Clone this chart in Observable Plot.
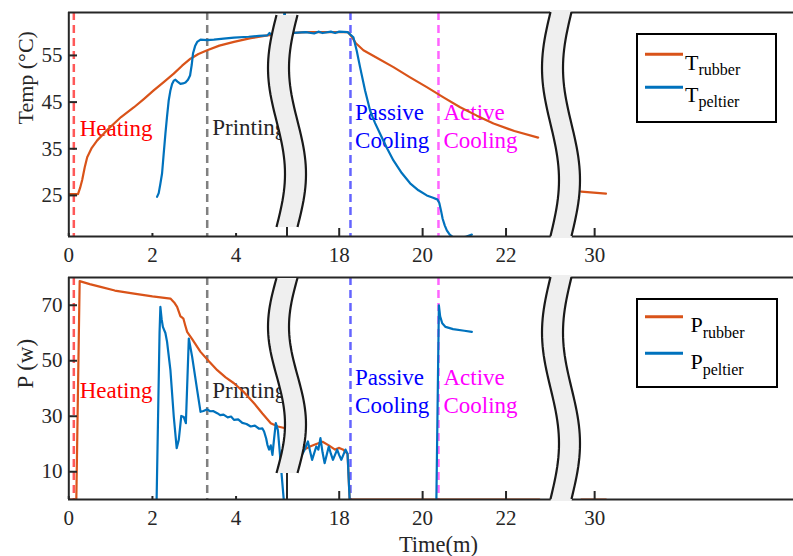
<!DOCTYPE html>
<html><head><meta charset="utf-8">
<script src="https://cdn.jsdelivr.net/npm/d3@7"></script>
<script src="https://cdn.jsdelivr.net/npm/@observablehq/plot@0.6"></script>
<style>
body{margin:0;background:#fff;}
#wrap{position:relative;width:793px;height:556px;overflow:hidden;font-family:"Liberation Serif","Times New Roman",serif;background:#fff;}
#wrap svg{position:absolute;left:0;overflow:visible;}
#wrap svg text{font-family:"Liberation Serif","Times New Roman",serif;}
</style></head><body><div id="wrap"></div>
<script>
// ---------- data (time in minutes) ----------
const xTicksA = [0, 2, 4];
const xTicksB = [18, 20, 22, 30];
const tempTicks = [25, 35, 45, 55];
const powerTicks = [10, 30, 50, 70];

const tRubber = [
 [[0,25.3],[0.22,25.3],[0.27,26.6],[0.32,28.3],[0.38,31.0],[0.44,33.2],[0.55,35.2],[0.68,36.8],[0.85,38.4],[1.0,39.7],[1.25,41.8],[1.56,43.9],[1.8,45.7],[2.03,47.5],[2.27,49.3],[2.51,51.1],[2.71,52.8],[2.91,54.3],[3.1,55.3],[3.31,56.1],[3.6,57.1],[3.95,57.9],[4.35,58.7],[4.75,59.3],[5.0,59.5],[5.23,59.6]],
 [[16.8,59.8],[17.2,60.0],[17.6,60.0],[18.0,60.0],[18.21,60.0],[18.3,59.0],[18.4,57.6],[18.58,56.1],[18.9,54.5],[19.3,52.5],[19.7,50.3],[20.1,48.2],[20.5,46.0],[20.9,43.9],[21.3,42.1],[21.7,40.4],[22.2,38.8],[22.77,37.4]],
 [[29.68,25.8],[30.27,25.4]]
];
const tPeltier = [
 [[2.11,24.7],[2.15,25.5],[2.19,27.5],[2.23,29.7],[2.27,34.0],[2.31,38.2],[2.35,42.0],[2.39,45.4],[2.43,47.5],[2.47,48.9],[2.51,49.6],[2.55,49.8],[2.6,49.4],[2.67,48.9],[2.73,49.0],[2.79,49.2],[2.85,49.8],[2.9,50.7],[2.94,53.0],[2.97,55.4],[3.02,57.0],[3.07,57.9],[3.15,58.4],[3.31,58.3],[3.47,58.4],[3.7,58.6],[3.95,58.8],[4.3,59.0],[4.55,59.2],[4.75,59.3],[4.8,59.8],[4.85,59.4],[4.95,59.6],[5.05,59.8],[5.14,60.0],[5.16,66],[5.18,60.0],[5.23,60.0]],
 [[16.8,59.8],[17.2,60.0],[17.4,59.7],[17.5,60.1],[17.6,59.8],[17.8,60.1],[17.9,59.8],[18.0,60.1],[18.2,60.0],[18.34,58.9],[18.42,56.0],[18.5,52.5],[18.62,47.5],[18.74,43.2],[18.86,40.5],[18.98,38.2],[19.14,35.2],[19.3,32.5],[19.5,29.8],[19.7,27.6],[19.9,26.1],[20.1,25.0],[20.25,24.5],[20.36,24.1],[20.4,23.4],[20.44,21.8],[20.48,20.0],[20.53,18.6],[20.58,17.5],[20.65,16.6],[20.75,15.9],[20.9,15.8],[21.05,16.2],[21.18,16.6]]
];
const pRubber = [
 [[0,0],[0.18,0],[0.22,40],[0.26,78.7],[0.5,77.6],[0.76,76.6],[1.1,75.3],[1.56,74.2],[2.0,73.2],[2.43,72.4],[2.52,71.0],[2.59,69.4],[2.67,66.0],[2.71,65.6],[2.74,65.2],[2.78,63.0],[2.83,60.4],[2.95,57.8],[3.15,53.2],[3.35,49.8],[3.55,46.6],[3.75,44.0],[3.95,41.9],[4.2,38.5],[4.43,34.7],[4.63,31.0],[4.83,27.5],[5.0,26.3],[5.23,25.5]],
 [[16.8,18.5],[17.0,18.6],[17.15,17.9],[17.3,19.1],[17.45,20.0],[17.6,20.8],[17.75,19.5],[17.9,18.0],[18.0,18.6],[18.1,17.9],[18.2,16.5],[18.25,0],[22.8,0]],
 [[29.68,0],[30.27,0]]
];
const pPeltier = [
 [[2.10,0],[2.17,60],[2.19,69.4],[2.22,65.0],[2.25,62.2],[2.31,60.0],[2.35,56.8],[2.43,46.6],[2.51,29.9],[2.58,18.5],[2.63,21.5],[2.69,30.1],[2.75,29.7],[2.80,27.5],[2.87,58.0],[2.95,51.4],[3.07,39.4],[3.15,31.6],[3.22,31.9],[3.31,32.5],[3.38,31.8],[3.45,31.9],[3.55,31.1],[3.62,30.4],[3.7,30.6],[3.8,29.6],[3.88,29.9],[3.95,28.7],[4.05,28.9],[4.15,27.6],[4.25,27.2],[4.35,26.3],[4.45,26.6],[4.55,25.5],[4.63,25.6],[4.67,24.5],[4.72,22.0],[4.75,19.7],[4.79,18.0],[4.83,19.5],[4.87,16.1],[4.91,22.0],[4.95,27.5],[5.0,25.0],[5.04,18.0],[5.08,10.7],[5.14,0]],
 [[16.8,17.0],[17.0,18.0],[17.1,16.0],[17.15,17.3],[17.25,20.9],[17.3,17.5],[17.35,14.3],[17.45,19.1],[17.5,18.0],[17.55,22.1],[17.6,17.0],[17.65,13.1],[17.75,19.1],[17.8,16.5],[17.85,14.3],[17.95,18.0],[18.0,16.0],[18.05,14.3],[18.15,18.0],[18.2,16.5],[18.25,0]],
 [[20.33,0],[20.39,70.0],[20.42,66.0],[20.47,63.5],[20.55,62.2],[20.73,61.4],[21.0,60.8],[21.18,60.4]]
];

const phaseNames = ["Heating", "Printing", "Passive\nCooling", "Active\nCooling"];
const phaseStart = [0.12, 3.31, 18.27, 20.38];
const phaseLabelT = [0.26, 3.43, 18.38, 20.50];
const phaseLabelTemp = [39.7, 39.9, 40.1, 40.1];
const phaseLabelPower = [39.6, 39.6, 39.4, 39.4];

// ---------- styling / layout ----------
const FONT = '"Liberation Serif", "Times New Roman", serif';
const ORANGE = "#D95319", BLUE = "#0072BD", INK = "#262626";
const phaseText = ["#ff0000", "#262626", "#0000ff", "#ff00ff"];
const phaseLine = ["#ff2020", "#555555", "#3030ff", "#ff30ff"];
// broken time axis: 0–5.23 | 16.76–23.33 | 29.21–34.74
const xDomain = [0, 5.23, 16.76, 23.33, 29.21, 34.74];
const xRange = [68.3, 287, 287, 561, 561, 793];

const rows = segs => segs.flatMap((s, i) => s.map(([t, v]) => ({t, v, seg: i})));

function phaseMarks(labelVals) {
  const m = [];
  phaseStart.forEach((t, i) => {
    m.push(Plot.ruleX([t], {stroke: phaseLine[i], strokeWidth: 2.5, strokeDasharray: "8,5", strokeOpacity: 0.75}));
  });
  const labels = phaseNames.map((name, i) => ({name, t: phaseLabelT[i], v: labelVals[i], c: phaseText[i]}));
  labels.forEach(d => {
    m.push(Plot.text([d], {x: "t", y: "v", text: "name", fill: d.c, textAnchor: "start", fontSize: 23, lineHeight: 1.2, fontFamily: FONT}));
  });
  return m;
}

function axes(yTicks) {
  return [
    Plot.axisY({ticks: yTicks, tickSize: -9, tickPadding: 15, label: null, fontSize: 21, fontFamily: FONT, strokeWidth: 2}),
    Plot.axisX({ticks: xTicksA, tickSize: -3, tickPadding: 13.5, label: null, fontSize: 21, fontFamily: FONT, strokeWidth: 2}),
    Plot.axisX({ticks: xTicksB, tickSize: -8, tickPadding: 18.5, label: null, fontSize: 21, fontFamily: FONT, strokeWidth: 2})
  ];
}

function addBreaks(svg, specs) {
  const sx = svg.scale("x");
  const g = d3.select(svg).append("g");
  const A = 8.5, Wd = 21, n = 48;
  for (const b of specs) {
    const c = sx.apply(b.t);
    const left = [], right = [];
    const fy0 = b.y0 - (b.cover ? 2 : 0), fy1 = b.y1 + (b.cover ? 2 : 0);
    for (let i = 0; i <= n; i++) {
      const u = i / n;
      const y = fy0 + u * (fy1 - fy0);
      const cx = c - A * Math.sin(2 * Math.PI * u);
      left.push([cx - Wd / 2, y]);
      right.push([cx + Wd / 2, y]);
    }
    const line = d3.line();
    g.append("path").attr("d", line(left.concat(right.slice().reverse())) + "Z").attr("fill", "#efefef");
    const el = [], er = [];
    for (let i = 0; i <= n; i++) {
      const u = i / n;
      const y = b.y0 + u * (b.y1 - b.y0);
      const cx = c - A * Math.sin(2 * Math.PI * u);
      el.push([cx - Wd / 2, y]);
      er.push([cx + Wd / 2, y]);
    }
    g.append("path").attr("d", line(el)).attr("fill", "none").attr("stroke", "#1a1a1a").attr("stroke-width", 2.2);
    g.append("path").attr("d", line(er)).attr("fill", "none").attr("stroke", "#1a1a1a").attr("stroke-width", 2.2);
    if (b.stub) {
      g.append("line").attr("x1", c).attr("x2", c).attr("y1", b.y1).attr("y2", b.bottom)
        .attr("stroke", INK).attr("stroke-width", 2);
    }
  }
}

const styleBase = {fontFamily: FONT, fontSize: "21px", color: INK, background: "transparent", overflow: "visible"};

// ---------- top panel ----------
const tempDomain = [16.2, 64.2];
const topPlot = Plot.plot({
  width: 793, height: 265, marginLeft: 68, marginRight: 0, marginTop: 12, marginBottom: 29,
  style: styleBase,
  x: {type: "linear", domain: xDomain, range: xRange},
  y: {domain: tempDomain},
  marks: [
    ...phaseMarks(phaseLabelTemp),
    Plot.line(rows(tRubber), {x: "t", y: "v", z: "seg", stroke: ORANGE, strokeWidth: 2.2, clip: true}),
    Plot.line(rows(tPeltier), {x: "t", y: "v", z: "seg", stroke: BLUE, strokeWidth: 2.2, clip: true}),
    Plot.ruleY(tempDomain, {stroke: INK, strokeWidth: 2}),
    Plot.ruleX([0], {stroke: INK, strokeWidth: 2}),
    ...axes(tempTicks),
    Plot.text(["Temp (°C)"], {frameAnchor: "left", dx: -43, rotate: -90, fontSize: 22, fontFamily: FONT, fill: INK})
  ]
});
topPlot.style.top = "0px";
addBreaks(topPlot, [
  {t: 5.23, y0: 15, y1: 227, stub: true, bottom: 236},
  {t: 23.33, y0: 12, y1: 236, cover: true}
]);

// ---------- bottom panel ----------
const powerDomain = [0, 80];
const bottomPlot = Plot.plot({
  width: 793, height: 291, marginLeft: 68, marginRight: 0, marginTop: 12, marginBottom: 57,
  style: styleBase,
  x: {type: "linear", domain: xDomain, range: xRange},
  y: {domain: powerDomain},
  marks: [
    ...phaseMarks(phaseLabelPower),
    Plot.line(rows(pRubber), {x: "t", y: "v", z: "seg", stroke: ORANGE, strokeWidth: 2.2, clip: true}),
    Plot.line(rows(pPeltier), {x: "t", y: "v", z: "seg", stroke: BLUE, strokeWidth: 2.2, clip: true}),
    Plot.ruleY(powerDomain, {stroke: INK, strokeWidth: 2}),
    Plot.ruleX([0], {stroke: INK, strokeWidth: 2}),
    ...axes(powerTicks),
    Plot.text(["P (w)"], {frameAnchor: "left", dx: -43, rotate: -90, fontSize: 23, fontFamily: FONT, fill: INK}),
    Plot.text(["Time(m)"], {frameAnchor: "bottom", lineAnchor: "middle", dx: 7.5, dy: 45, fontSize: 22.5, fontFamily: FONT, fill: INK})
  ]
});
bottomPlot.style.top = "265px";
addBreaks(bottomPlot, [
  {t: 5.23, y0: 13, y1: 208, stub: true, bottom: 234},
  {t: 23.33, y0: 12, y1: 234, cover: true}
]);

const wrap = document.getElementById("wrap");
wrap.appendChild(topPlot);
wrap.appendChild(bottomPlot);

// ---------- legends ----------
const legendSeries = [
  {box: [636, 33, 141, 90], letter: "T", lx: 685, items: [
    {sub: "rubber", color: ORANGE, ly: 54.3, base: 69.5},
    {sub: "peltier", color: BLUE, ly: 87.3, base: 101.8}]},
  {box: [636, 298, 142, 90], letter: "P", lx: 690.5, items: [
    {sub: "rubber", color: ORANGE, ly: 316.7, base: 332.3},
    {sub: "peltier", color: BLUE, ly: 353.3, base: 369}]}
];
const ov = d3.select(wrap).append("svg").attr("width", 793).attr("height", 556)
  .style("top", "0px").style("font-family", FONT);
for (const L of legendSeries) {
  const [bx, by, bw, bh] = L.box;
  ov.append("rect").attr("x", bx + 1).attr("y", by + 1).attr("width", bw - 2).attr("height", bh - 2)
    .attr("fill", "#fff").attr("stroke", "#000").attr("stroke-width", 2);
  for (const it of L.items) {
    ov.append("line").attr("x1", 645).attr("x2", 683).attr("y1", it.ly).attr("y2", it.ly)
      .attr("stroke", it.color).attr("stroke-width", 3);
    const t = ov.append("text").attr("x", L.lx).attr("y", it.base).attr("fill", "#000").attr("font-size", 22);
    t.append("tspan").text(L.letter);
    t.append("tspan").attr("font-size", 16).attr("dy", 5.5).text(it.sub);
  }
}
</script></body></html>
